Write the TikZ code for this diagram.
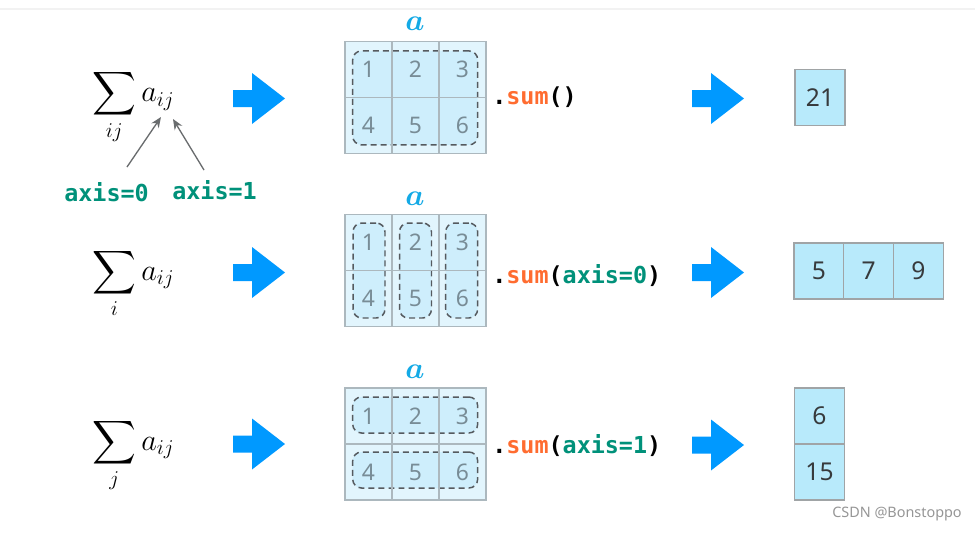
\documentclass[tikz,border=0pt]{standalone}
\usepackage{fontspec}
\usepackage{amsmath}
\usepackage{bm}
\setsansfont{Noto Sans}
\setmonofont{DejaVu Sans Mono}
\DeclareMathSizes{17}{17}{13.2}{10}
\usetikzlibrary{arrows.meta, positioning}
\definecolor{arrow_blue}{RGB}{0, 153, 255}
\definecolor{label_blue}{RGB}{20, 170, 230}
\definecolor{grid_gray}{RGB}{172, 184, 190}
\definecolor{mat_fill}{RGB}{226, 245, 253}
\definecolor{group_fill}{RGB}{206, 238, 252}
\definecolor{dash_gray}{RGB}{85, 90, 95}
\definecolor{num_gray}{RGB}{120, 140, 150}
\definecolor{res_fill}{RGB}{184, 234, 251}
\definecolor{res_gray}{RGB}{160, 164, 166}
\definecolor{res_dark}{RGB}{55, 58, 60}
\definecolor{sum_orange}{RGB}{255, 108, 48}
\definecolor{axis_green}{RGB}{0, 145, 122}
\definecolor{pointer_gray}{RGB}{105, 108, 110}
\definecolor{mark_gray}{RGB}{150, 150, 150}
\definecolor{top_gray}{RGB}{242, 242, 242}
\def \axz {\textcolor{axis_green}{axis=0}}
\def \axo {\textcolor{axis_green}{axis=1}}

\tikzset{
    blue_arrow/.pic={
        \fill[arrow_blue] (0,-8.5) -- (19,-8.5) -- (19,-25.5) -- (52,0)
            -- (19,25.5) -- (19,8.5) -- (0,8.5) -- cycle;
    }
}

\begin{document}
\begin{tikzpicture}[
    x=0.02cm, y=-0.02cm,
    mat_bg/.style={
        rectangle,
        draw=grid_gray,
        fill=mat_fill,
        line width=0.8pt,
        minimum width=2.82cm,
        minimum height=2.24cm,
        inner sep=0pt
    },
    group/.style={
        rectangle,
        draw=dash_gray,
        fill=group_fill,
        line width=0.85pt,
        dash pattern=on 3.4pt off 2.3pt,
        rounded corners=5pt,
        inner sep=0pt
    },
    cell/.style={
        rectangle,
        draw=grid_gray,
        line width=0.8pt,
        minimum width=0.94cm,
        minimum height=1.12cm,
        inner sep=0pt,
        text=num_gray,
        font=\sffamily\fontsize{13}{15}\selectfont
    },
    result/.style={
        rectangle,
        draw=res_gray,
        fill=res_fill,
        line width=0.9pt,
        minimum width=1cm,
        minimum height=1.12cm,
        inner sep=0pt,
        text=res_dark,
        font=\sffamily\fontsize{14}{16}\selectfont
    },
    code/.style={
        anchor=west,
        inner sep=0pt,
        font=\ttfamily\bfseries\fontsize{13.3}{15}\selectfont
    },
    mat_label/.style={
        inner sep=0pt,
        text=label_blue,
        font=\fontsize{16}{18}\selectfont
    },
    formula/.style={
        anchor=base west,
        inner sep=0pt,
        font=\fontsize{17}{20}\selectfont
    },
    pointer/.style={
        -{Stealth[length=6pt, width=5pt]},
        line width=0.75pt,
        pointer_gray
    },
]
\fill[white] (0,0) rectangle (975,532);
\useasboundingbox (0,0) rectangle (975,532);
\draw[top_gray, line width=1.2pt] (0,9) -- (975,9);

% Row 1: sum over all
\node[formula] (sum1) at (92,101.7) {$\displaystyle\sum_{ij} a_{ij}$};
\pic (arr1a) at (233,98.5) {blue_arrow};
\node[mat_label] (a1) at (415,24) {$\boldsymbol{a}$};
\node[mat_bg] (mat1) at (415.5,97.5) {};
\node[group, minimum width=2.5cm, minimum height=1.88cm] (g1) at (415.2,97.9) {};
\node[cell] (c11) at (368.5,69.5) {1};
\node[cell] (c12) at (415.5,69.5) {2};
\node[cell] (c13) at (462.5,69.5) {3};
\node[cell] (c14) at (368.5,125.5) {4};
\node[cell] (c15) at (415.5,125.5) {5};
\node[cell] (c16) at (462.5,125.5) {6};
\node[code] (call1) at (492,97.5) {.\textcolor{sum_orange}{sum}()};
\pic (arr1b) at (692,98.5) {blue_arrow};
\node[result] (r1) at (820,97.5) {21};

\node[code] (ax0) at (64,192.5) {\axz};
\node[code] (ax1) at (172,190.5) {\axo};
\coordinate (ax0_from) at (127,167);
\coordinate (ax0_to) at (161,117);
\coordinate (ax1_from) at (204,170);
\coordinate (ax1_to) at (173,119);
\draw[pointer] (ax0_from) -- (ax0_to);
\draw[pointer] (ax1_from) -- (ax1_to);

% Row 2: sum over axis 0
\node[formula] (sum2) at (92,280) {$\displaystyle\sum_{i} a_{ij}$};
\pic (arr2a) at (233,272.5) {blue_arrow};
\node[mat_label] (a2) at (415,199) {$\boldsymbol{a}$};
\node[mat_bg] (mat2) at (415.5,270.5) {};
\node[group, minimum width=0.64cm, minimum height=1.9cm] (g21) at (369,270.5) {};
\node[group, minimum width=0.64cm, minimum height=1.9cm] (g22) at (415.5,270.5) {};
\node[group, minimum width=0.64cm, minimum height=1.9cm] (g23) at (461.7,270.5) {};
\node[cell] (c21) at (368.5,242.5) {1};
\node[cell] (c22) at (415.5,242.5) {2};
\node[cell] (c23) at (462.5,242.5) {3};
\node[cell] (c24) at (368.5,298.5) {4};
\node[cell] (c25) at (415.5,298.5) {5};
\node[cell] (c26) at (462.5,298.5) {6};
\node[code] (call2) at (492,276) {.\textcolor{sum_orange}{sum}(\axz)};
\pic (arr2b) at (692,272.5) {blue_arrow};
\node[result] (r21) at (819,271) {5};
\node[result] (r22) at (868.7,271) {7};
\node[result] (r23) at (918.4,271) {9};

% Row 3: sum over axis 1
\node[formula] (sum3) at (92,450) {$\displaystyle\sum_{j} a_{ij}$};
\pic (arr3a) at (233,444) {blue_arrow};
\node[mat_label] (a3) at (415,372) {$\boldsymbol{a}$};
\node[mat_bg] (mat3) at (415.5,444) {};
\node[group, minimum width=2.5cm, minimum height=0.72cm] (g31) at (415.2,415) {};
\node[group, minimum width=2.5cm, minimum height=0.72cm] (g32) at (415.2,470) {};
\node[cell] (c31) at (368.5,416) {1};
\node[cell] (c32) at (415.5,416) {2};
\node[cell] (c33) at (462.5,416) {3};
\node[cell] (c34) at (368.5,472) {4};
\node[cell] (c35) at (415.5,472) {5};
\node[cell] (c36) at (462.5,472) {6};
\node[code] (call3) at (492,446) {.\textcolor{sum_orange}{sum}(\axo)};
\pic (arr3b) at (692,445) {blue_arrow};
\node[result] (r31) at (819.5,416) {6};
\node[result] (r32) at (819.5,472) {15};

\node[text=mark_gray, font=\sffamily\fontsize{8.2}{10}\selectfont, inner sep=0pt] (mark) at (897,514) {CSDN @Bonstoppo};
\end{tikzpicture}
\end{document}
